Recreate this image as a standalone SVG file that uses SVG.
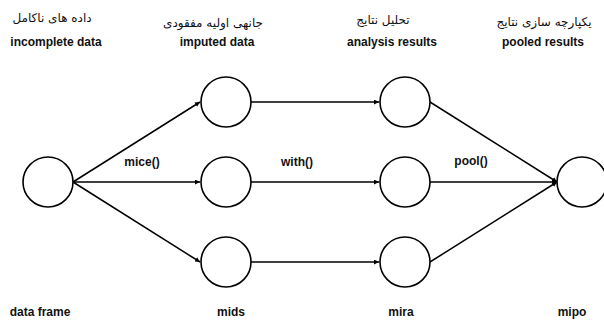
<svg xmlns="http://www.w3.org/2000/svg" width="604" height="320" viewBox="0 0 604 320">
  <style>
    .node { fill: #fff; stroke: #000; stroke-width: 1.6; }
    .edge { fill: none; stroke: #000; stroke-width: 1.5; }
    .en { font-family: "Liberation Sans", Arial, sans-serif; font-weight: bold; font-size: 12px; fill: #111; text-anchor: middle; }
    .fa { font-family: "DejaVu Sans", "Noto Sans", sans-serif; font-size: 12px; fill: #111; text-anchor: middle; direction: rtl; }
  </style>
  <defs>
    <marker id="arrow" viewBox="0 0 8 8" refX="8" refY="4" markerWidth="5" markerHeight="5" orient="auto" markerUnits="userSpaceOnUse">
      <path d="M0,0 L8,4 L0,8 Z" fill="#000"/>
    </marker>
  </defs>
  <rect width="604" height="320" fill="#fff"/>

  <!-- column headings -->
  <g id="headings">
    <text class="fa" x="52" y="22">داده های ناکامل</text>
    <text class="en" x="56" y="46">incomplete data</text>
    <text class="fa" x="213" y="27">جانهی اولیه مفقودی</text>
    <text class="en" x="217" y="46">imputed data</text>
    <text class="fa" x="383" y="24">تحلیل نتایج</text>
    <text class="en" x="392" y="46">analysis results</text>
    <text class="fa" x="544" y="26">یکپارچه سازی نتایج</text>
    <text class="en" x="543" y="46">pooled results</text>
  </g>

  <!-- connectors -->
  <g id="connectors">
    <line class="edge" x1="73" y1="182" x2="200" y2="102" marker-end="url(#arrow)"/>
    <line class="edge" x1="73" y1="182" x2="200" y2="182" marker-end="url(#arrow)"/>
    <line class="edge" x1="73" y1="182" x2="200" y2="262" marker-end="url(#arrow)"/>
    <line class="edge" x1="251" y1="102" x2="379" y2="102" marker-end="url(#arrow)"/>
    <line class="edge" x1="251" y1="182" x2="379" y2="182" marker-end="url(#arrow)"/>
    <line class="edge" x1="251" y1="262" x2="379" y2="262" marker-end="url(#arrow)"/>
    <line class="edge" x1="430" y1="102" x2="557" y2="182" marker-end="url(#arrow)"/>
    <line class="edge" x1="430" y1="182" x2="557" y2="182" marker-end="url(#arrow)"/>
    <line class="edge" x1="430" y1="262" x2="557" y2="182" marker-end="url(#arrow)"/>
    <text class="en" x="142" y="166">mice()</text>
    <text class="en" x="297" y="166">with()</text>
    <text class="en" x="471" y="165">pool()</text>
  </g>

  <!-- data frame -->
  <g id="data-frame">
    <circle class="node" cx="48" cy="182" r="25"/>
    <text class="en" x="40" y="316">data frame</text>
  </g>

  <!-- mids -->
  <g id="mids">
    <circle class="node" cx="226" cy="102" r="25"/>
    <circle class="node" cx="226" cy="182" r="25"/>
    <circle class="node" cx="226" cy="262" r="25"/>
    <text class="en" x="231" y="316">mids</text>
  </g>

  <!-- mira -->
  <g id="mira">
    <circle class="node" cx="405" cy="102" r="25"/>
    <circle class="node" cx="405" cy="182" r="25"/>
    <circle class="node" cx="405" cy="262" r="25"/>
    <text class="en" x="401" y="316">mira</text>
  </g>

  <!-- mipo -->
  <g id="mipo">
    <circle class="node" cx="582" cy="182" r="25"/>
    <text class="en" x="572" y="316">mipo</text>
  </g>
</svg>
